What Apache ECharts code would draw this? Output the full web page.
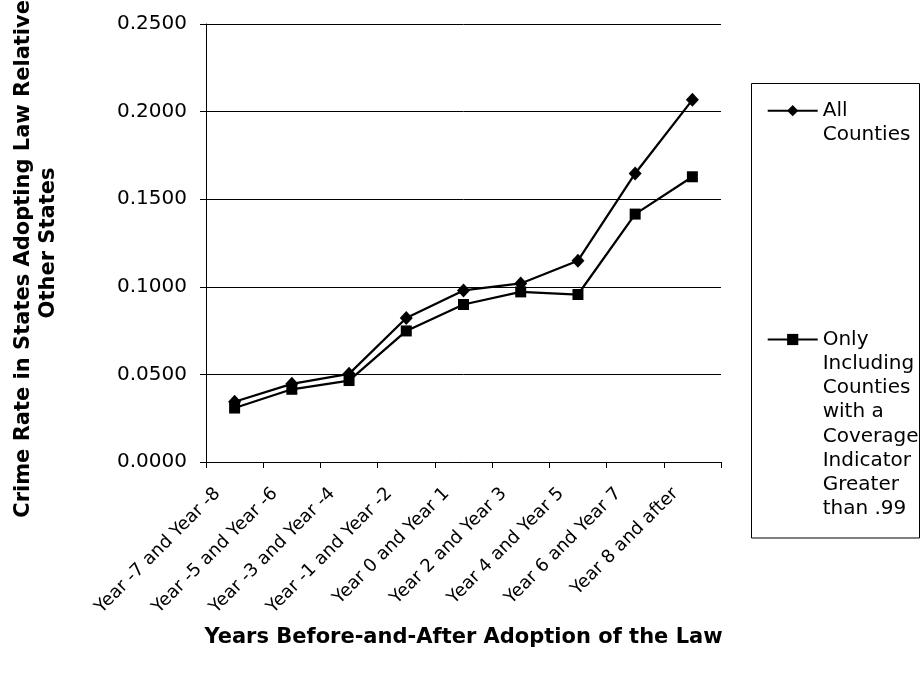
<!DOCTYPE html>
<html><head><meta charset="utf-8">
<script src="https://cdn.jsdelivr.net/npm/echarts@6/dist/echarts.min.js"></script>
<style>html,body{margin:0;padding:0;background:#fff}#c{width:920px;height:677px}</style>
</head><body><div id="c"></div>
<script>
const categories = ['Year -7 and Year -8','Year -5 and Year -6','Year -3 and Year -4','Year -1 and Year -2','Year 0 and Year 1','Year 2 and Year 3','Year 4 and Year 5','Year 6 and Year 7','Year 8 and after'];
const allCounties = [0.0344, 0.0446, 0.0503, 0.0822, 0.0979, 0.1019, 0.1149, 0.1647, 0.2067];
const highCoverage = [0.0308, 0.0415, 0.0465, 0.0748, 0.0899, 0.0971, 0.0956, 0.1415, 0.1628];
const seriesNames = ['All\nCounties', 'Only\nIncluding\nCounties\nwith a\nCoverage\nIndicator\nGreater\nthan .99'];
const yMin = 0, yMax = 0.25, yStep = 0.05;
const xTitle = 'Years Before-and-After Adoption of the Law';
const yTitle = 'Crime Rate in States Adopting Law Relative to\nOther States';

const FONT = 'DejaVu Sans';
const LH = 24.2;
const chart = echarts.init(document.getElementById('c'), null, {renderer: 'canvas'});
function legendFor(name, top) {
  const n = name.split('\n').length;
  return {
    orient: 'vertical', left: 766.7, top: top, padding: 0,
    itemWidth: 50, itemHeight: 14,
    data: [name],
    formatter: nm => '\u00a0\n'.repeat(n - 1) + nm,
    textStyle: {fontSize: 20, lineHeight: LH, fontFamily: FONT, color: '#000'},
    selectedMode: false
  };
}
chart.setOption({
  animation: false,
  backgroundColor: '#fff',
  grid: {left: 206, right: 199, top: 24, bottom: 215, containLabel: false, outerBoundsMode: 'none'},
  legend: [legendFor(seriesNames[0], 74.4), legendFor(seriesNames[1], 158)],
  graphic: [{type: 'rect', shape: {x: 751.5, y: 83.5, width: 168, height: 454.5}, style: {fill: 'none', stroke: '#000', lineWidth: 1}}],
  xAxis: {
    type: 'category', data: categories, boundaryGap: true,
    axisLine: {lineStyle: {color: '#000', width: 1}},
    axisTick: {show: true, length: 6, alignWithLabel: false, lineStyle: {color: '#000'}},
    axisLabel: {rotate: 45, interval: 0, margin: 12, fontSize: 18, fontFamily: FONT, color: '#000', padding: [0, 24, 0, 0]},
    name: xTitle, nameLocation: 'middle', nameGap: 165, nameMoveOverlap: false,
    nameTextStyle: {fontSize: 21, fontWeight: 'bold', fontFamily: FONT, color: '#000'}
  },
  yAxis: {
    type: 'value', min: yMin, max: yMax, interval: yStep,
    axisLine: {show: true, lineStyle: {color: '#000', width: 1}},
    axisTick: {show: true, length: 6, lineStyle: {color: '#000'}},
    splitLine: {show: true, lineStyle: {color: '#000', width: 1}},
    axisLabel: {margin: 19, fontSize: 20, fontFamily: FONT, color: '#000', formatter: v => v.toFixed(4)},
    name: yTitle, nameLocation: 'middle', nameGap: 145, nameMoveOverlap: false,
    nameTextStyle: {fontSize: 21, fontWeight: 'bold', fontFamily: FONT, color: '#000', lineHeight: 25}
  },
  series: [
    {name: seriesNames[0], type: 'line', data: allCounties, symbol: 'diamond', symbolSize: [13, 14],
     lineStyle: {color: '#000', width: 2.25}, itemStyle: {color: '#000'}},
    {name: seriesNames[1], type: 'line', data: highCoverage, symbol: 'rect', symbolSize: 11,
     lineStyle: {color: '#000', width: 2.25}, itemStyle: {color: '#000'}}
  ]
});
</script></body></html>
